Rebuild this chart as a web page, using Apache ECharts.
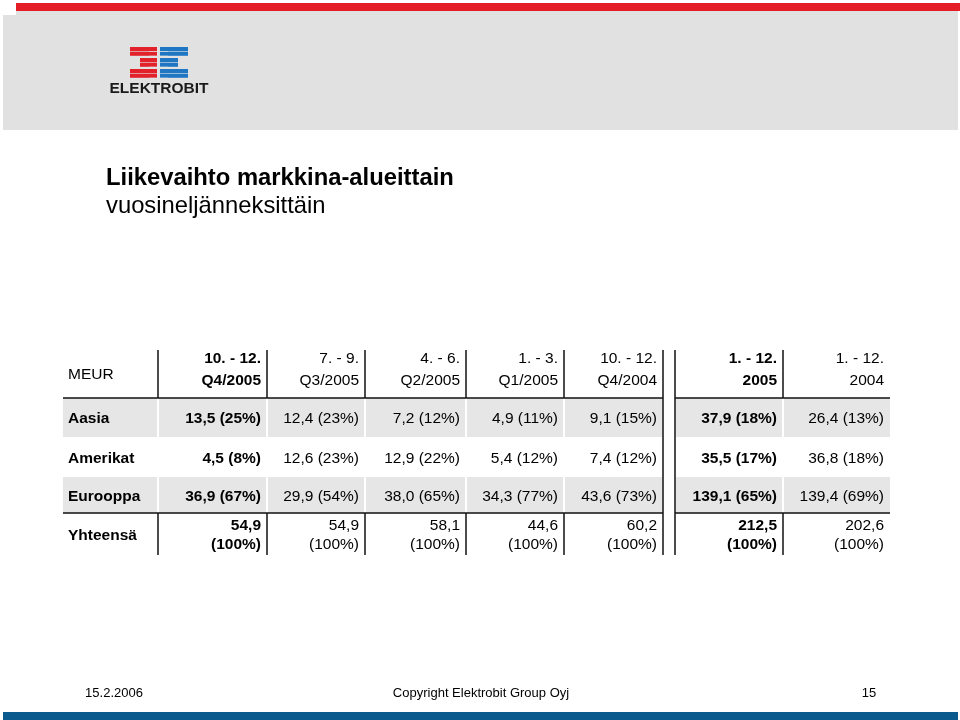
<!DOCTYPE html>
<html>
<head>
<meta charset="utf-8">
<title>Liikevaihto markkina-alueittain</title>
<script src="https://cdn.jsdelivr.net/npm/echarts@6/dist/echarts.min.js"></script>
<style>
  html, body { margin: 0; padding: 0; background: #ffffff; }
  #chart { width: 960px; height: 720px; }
</style>
</head>
<body>
<div id="chart"></div>
<script>
// ---------- data ----------
const unitLabel = 'MEUR';
const periodLine1 = ['10. - 12.', '7. - 9.', '4. - 6.', '1. - 3.', '10. - 12.', '1. - 12.', '1. - 12.'];
const periodLine2 = ['Q4/2005', 'Q3/2005', 'Q2/2005', 'Q1/2005', 'Q4/2004', '2005', '2004'];
const regions = ['Aasia', 'Amerikat', 'Eurooppa'];
const aasiaValues    = [13.5, 12.4, 7.2, 4.9, 9.1, 37.9, 26.4];
const aasiaShares    = [25, 23, 12, 11, 15, 18, 13];
const amerikatValues = [4.5, 12.6, 12.9, 5.4, 7.4, 35.5, 36.8];
const amerikatShares = [8, 23, 22, 12, 12, 17, 18];
const eurooppaValues = [36.9, 29.9, 38.0, 34.3, 43.6, 139.1, 139.4];
const eurooppaShares = [67, 54, 65, 77, 73, 65, 69];
const totalLabel = 'Yhteensä';
const totalValues    = [54.9, 54.9, 58.1, 44.6, 60.2, 212.5, 202.6];
const totalShares    = [100, 100, 100, 100, 100, 100, 100];

// ---------- layout / style (not data) ----------
const colEdges = [0, 95, 204, 302, 403, 501, 600, 612, 720, 827]; // grid units
const rowEdges = [0, 48, 87, 127, 163, 205];
const dataColToLayout = [1, 2, 3, 4, 5, 7, 8];
const boldDataCols = [0, 5];
const FONT = "'Liberation Sans', Arial, Helvetica, sans-serif";
const FS = 15.5;
const GRAY_ROW = '#e6e6e6';
const LINE = '#111111';

const fmt = v => v.toFixed(1).replace('.', ',');

const rowValues = [aasiaValues, amerikatValues, eurooppaValues];
const rowShares = [aasiaShares, amerikatShares, eurooppaShares];

// build table cells
const cells = [];
cells.push({ value: [0, 0], text: unitLabel, bold: false });
periodLine1.forEach((p, i) => {
  cells.push({ value: [dataColToLayout[i], 0], text: p + '\n' + periodLine2[i], bold: boldDataCols.includes(i) });
});
regions.forEach((reg, r) => {
  cells.push({ value: [0, r + 1], text: reg, bold: true });
  rowValues[r].forEach((v, i) => {
    cells.push({ value: [dataColToLayout[i], r + 1], text: fmt(v) + ' (' + rowShares[r][i] + '%)', bold: boldDataCols.includes(i) });
  });
});
cells.push({ value: [0, 4], text: totalLabel, bold: true });
totalValues.forEach((v, i) => {
  cells.push({ value: [dataColToLayout[i], 4], text: fmt(v) + '\n(' + totalShares[i] + '%)', bold: boldDataCols.includes(i) });
});

function line(x1, y1, x2, y2) {
  return { type: 'line', shape: { x1, y1, x2, y2 }, style: { stroke: LINE, lineWidth: 1.5 }, z2: 10 };
}

function renderItem(params, api) {
  const lc = api.value(0);
  const r = api.value(1);
  const cell = cells[params.dataIndex];
  const x0 = api.coord([colEdges[lc], 0])[0];
  const x1 = api.coord([colEdges[lc + 1], 0])[0];
  const y0 = api.coord([0, rowEdges[r]])[1];
  const y1 = api.coord([0, rowEdges[r + 1]])[1];
  const children = [];

  if (r === 1 || r === 3) {
    const left = x0 + (lc > 0 ? 1 : 0);
    const right = x1 - (lc < colEdges.length - 2 ? 1 : 0);
    children.push({ type: 'rect', shape: { x: left, y: y0, width: right - left, height: y1 - y0 }, style: { fill: GRAY_ROW }, z2: 1 });
  }
  if (r === 0) children.push(line(x0, y1, x1, y1));
  if (r === 4) children.push(line(x0, y0, x1, y0));
  if ((r === 0 || r === 4) && [0, 1, 2, 3, 4, 7].includes(lc)) children.push(line(x1, y0, x1, y1));
  if (lc === 5) children.push(line(x1, y0, x1, y1));
  if (lc === 7) children.push(line(x0, y0, x0, y1));

  let ty = (y0 + y1) / 2 + 1.5;
  let lh = FS + 4;
  if (r === 0) { ty = lc === 0 ? (y0 + y1) / 2 + 1 : y0 + 20; lh = 22; }
  if (r === 4) { ty = (y0 + y1) / 2 + 1.5; lh = 19; }
  const isLabel = lc === 0;
  children.push({
    type: 'text', z2: 20,
    style: {
      text: cell.text,
      x: isLabel ? x0 + 5 : x1 - 6,
      y: ty,
      align: isLabel ? 'left' : 'right',
      verticalAlign: 'middle',
      font: (cell.bold ? 'bold ' : '') + FS + 'px ' + FONT,
      lineHeight: lh,
      fill: '#000000'
    }
  });
  return { type: 'group', children };
}

// ---------- logo ----------
function logoGraphics() {
  const red = '#e3212b', blue = '#1f77c4', bg = '#e1e1e1';
  const els = [];
  const ox = 130, oy = 47;
  const bars = [
    { y: 0,  red: [0, 27],  blue: [30, 58] },
    { y: 11, red: [10, 27], blue: [30, 48] },
    { y: 22, red: [0, 27],  blue: [30, 58] }
  ];
  bars.forEach(b => {
    [0, 4.7].forEach(dy => {
      els.push({ type: 'rect', shape: { x: ox + b.red[0], y: oy + b.y + dy, width: b.red[1] - b.red[0], height: 4.1 }, style: { fill: red } });
      els.push({ type: 'rect', shape: { x: ox + b.blue[0], y: oy + b.y + dy, width: b.blue[1] - b.blue[0], height: 4.1 }, style: { fill: blue } });
    });
  });
  els.push({ type: 'rect', shape: { x: ox + 19, y: oy + 8, width: 8, height: 22 }, style: { fill: red } });
  els.push({ type: 'rect', shape: { x: ox + 30, y: oy + 8, width: 8, height: 22 }, style: { fill: blue } });
  for (let k = 0; k < 6; k++) {
    const yy = oy + Math.floor(k / 2) * 11 + (k % 2) * 4.7 + 4.1;
    els.push({ type: 'rect', shape: { x: ox + 19, y: yy, width: 19, height: 0.6 }, style: { fill: bg } });
  }
  els.push({ type: 'rect', shape: { x: ox + 19, y: oy + 8.8, width: 19, height: 2.2 }, style: { fill: bg } });
  els.push({ type: 'rect', shape: { x: ox + 19, y: oy + 19.8, width: 19, height: 2.2 }, style: { fill: bg } });
  els.push({ type: 'text', style: { text: 'ELEKTROBIT', x: 159, y: 88.5, align: 'center', verticalAlign: 'middle', font: 'bold 15.5px ' + FONT, fill: '#1a1a1a' } });
  return els;
}

const chart = echarts.init(document.getElementById('chart'), null, { renderer: 'canvas' });
chart.setOption({
  backgroundColor: '#ffffff',
  animation: false,
  title: {
    text: 'Liikevaihto markkina-alueittain',
    subtext: 'vuosineljänneksittäin',
    left: 106,
    top: 164,
    padding: 0,
    itemGap: 0,
    textStyle: { fontFamily: FONT, fontSize: 23.8, fontWeight: 'bold', color: '#000', lineHeight: 28 },
    subtextStyle: { fontFamily: FONT, fontSize: 23.8, fontWeight: 'normal', color: '#000', lineHeight: 28 }
  },
  grid: { left: 63, top: 350, width: 827, height: 205 },
  xAxis: { type: 'value', min: 0, max: 827, show: false },
  yAxis: { type: 'value', min: 0, max: 205, inverse: true, show: false },
  graphic: [
    { type: 'rect', z: -10, shape: { x: 3, y: 11, width: 955, height: 119 }, style: { fill: '#e1e1e1' } },
    { type: 'rect', z: -9, shape: { x: 3, y: 11, width: 13, height: 4 }, style: { fill: '#ffffff' } },
    { type: 'rect', z: -8, shape: { x: 16, y: 3, width: 944, height: 8 }, style: { fill: '#e31e26' } },
    { type: 'group', z: -5, children: logoGraphics() },
    { type: 'text', style: { text: '15.2.2006', x: 114, y: 693, align: 'center', verticalAlign: 'middle', font: '13px ' + FONT, fill: '#000' } },
    { type: 'text', style: { text: 'Copyright Elektrobit Group Oyj', x: 481, y: 693, align: 'center', verticalAlign: 'middle', font: '13px ' + FONT, fill: '#000' } },
    { type: 'text', style: { text: '15', x: 869, y: 693, align: 'center', verticalAlign: 'middle', font: '13px ' + FONT, fill: '#000' } },
    { type: 'rect', shape: { x: 3, y: 712, width: 955, height: 8 }, style: { fill: '#0b5a8e' } }
  ],
  series: [{
    type: 'custom',
    coordinateSystem: 'cartesian2d',
    clip: false,
    silent: true,
    renderItem: renderItem,
    data: cells.map(c => ({ value: c.value })),
    encode: { x: 0, y: 1 }
  }]
});
</script>
</body>
</html>
